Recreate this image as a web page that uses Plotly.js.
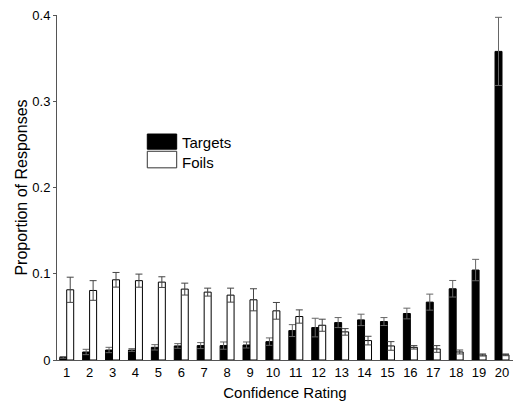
<!DOCTYPE html>
<html><head><meta charset="utf-8">
<script src="https://cdn.plot.ly/plotly-3.0.1.min.js"></script>
<style>html,body{margin:0;padding:0;background:#fff}#chart{width:513px;height:401px}</style>
</head><body><div id="chart"></div>
<script>
const ratings = [1,2,3,4,5,6,7,8,9,10,11,12,13,14,15,16,17,18,19,20];
const targets = [0.003,0.0093,0.0116,0.0116,0.0147,0.0163,0.0167,0.0167,0.0174,0.0213,0.0341,0.0376,0.0434,0.0465,0.0446,0.0539,0.0671,0.0826,0.1043,0.3578];
const targetErr = [0.001,0.0031,0.0031,0.0016,0.0031,0.0027,0.0035,0.0042,0.0035,0.0043,0.0069,0.0108,0.0058,0.0066,0.0046,0.0062,0.0093,0.0096,0.0124,0.0395];
const foils = [0.0814,0.0806,0.093,0.092,0.0903,0.0822,0.0787,0.0752,0.0698,0.057,0.0504,0.0403,0.0326,0.0225,0.0163,0.0147,0.0128,0.0093,0.0058,0.006];
const foilErr = [0.0146,0.0114,0.0085,0.0076,0.0062,0.0069,0.0046,0.0081,0.0128,0.0097,0.0077,0.007,0.0038,0.005,0.005,0.002,0.0039,0.0023,0.0012,0.001];
const seriesNames = ['Targets','Foils'];

const font = 'Liberation Sans, Arial, Helvetica, sans-serif';
const data = [
  {type:'bar', x:ratings, y:targets, name:seriesNames[0],
   marker:{color:'#000', line:{color:'#000', width:1}},
   error_y:{type:'data', array:targetErr, visible:true, color:'#666', thickness:1, width:3.5}},
  {type:'bar', x:ratings, y:foils, name:seriesNames[1],
   marker:{color:'#fff', line:{color:'#000', width:1}},
   error_y:{type:'data', array:foilErr, visible:true, color:'#444', thickness:1, width:3.5}}
];
const layout = {
  width:513, height:401,
  margin:{l:57, r:0, t:15, b:41},
  paper_bgcolor:'#fff', plot_bgcolor:'#fff',
  barmode:'group', bargap:0.39, bargroupgap:0,
  showlegend:false,
  font:{family:font, size:13, color:'#000'},
  xaxis:{range:[0.576,20.48], tickmode:'array', tickvals:ratings, ticktext:ratings.map(String),
    showgrid:false, zeroline:false, showline:true, linecolor:'#555', linewidth:1,
    ticks:'', ticklen:0, tickfont:{family:font, size:13},
    title:{text:'Confidence Rating', font:{family:font, size:15}, standoff:8}},
  yaxis:{range:[0,0.4], tickvals:[0,0.1,0.2,0.3,0.4], ticktext:['0','0.1','0.2','0.3','0.4'],
    showgrid:false, zeroline:false, showline:true, linecolor:'#555', linewidth:1,
    ticks:'outside', ticklen:3, tickcolor:'#555', tickfont:{family:font, size:13},
    title:{text:'Proportion of Responses', font:{family:font, size:16}, standoff:0}},
  shapes:[
    {type:'rect', xref:'paper', yref:'paper', x0:0.198, x1:0.2625, y0:0.655, y1:0.611, fillcolor:'#000', line:{color:'#000', width:1}},
    {type:'rect', xref:'paper', yref:'paper', x0:0.198, x1:0.2625, y0:0.605, y1:0.557, fillcolor:'#fff', line:{color:'#333', width:1}}
  ],
  annotations:[
    {xref:'paper', yref:'paper', x:0.27, y:0.630, text:seriesNames[0], showarrow:false, xanchor:'left', yanchor:'middle', font:{family:font, size:15}},
    {xref:'paper', yref:'paper', x:0.27, y:0.573, text:seriesNames[1], showarrow:false, xanchor:'left', yanchor:'middle', font:{family:font, size:15}}
  ]
};
Plotly.newPlot('chart', data, layout, {staticPlot:true, displayModeBar:false});
</script></body></html>
